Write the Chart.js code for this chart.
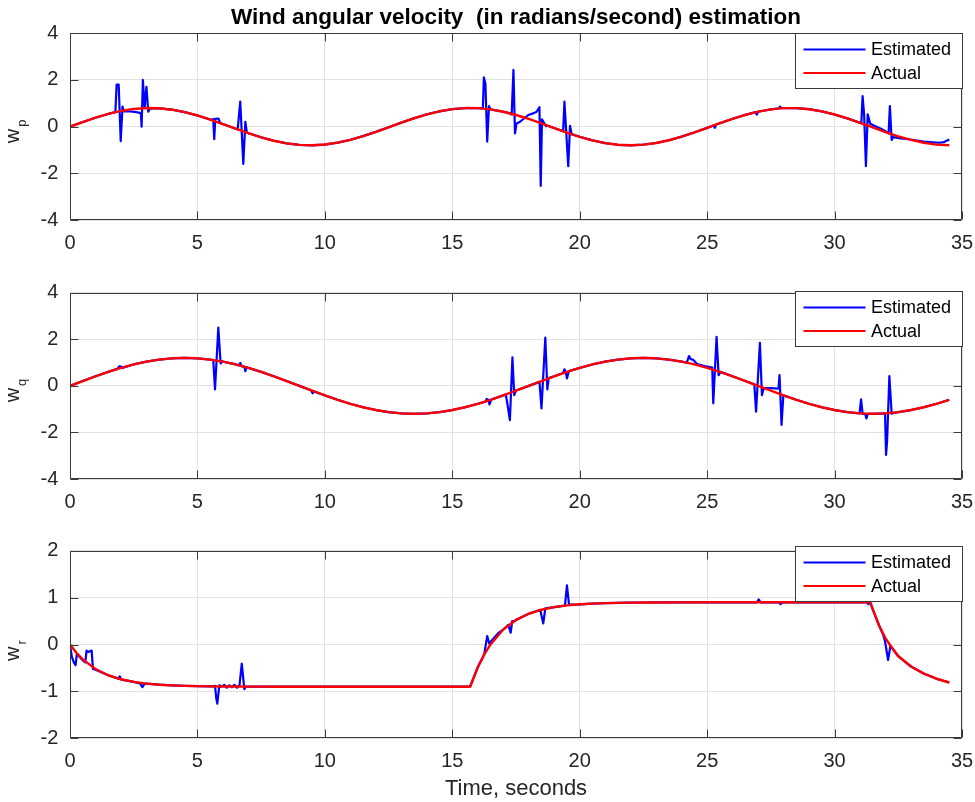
<!DOCTYPE html>
<html><head><meta charset="utf-8">
<script src="https://cdn.jsdelivr.net/npm/chart.js@4.4.0/dist/chart.umd.min.js"></script>
<style>
html,body{margin:0;padding:0;background:#fff;}
#wrap{position:relative;width:975px;height:802px;overflow:hidden;background:#fff;}
canvas{position:absolute;left:0;}
</style></head><body>
<div id="wrap">
<canvas id="c1" width="975" height="262" style="top:0px"></canvas>
<canvas id="c2" width="975" height="258" style="top:262px"></canvas>
<canvas id="c3" width="975" height="282" style="top:520px"></canvas>
</div>
<script>
// ---------------- data ----------------
const titleText = 'Wind angular velocity  (in radians/second) estimation';
const xLabel = 'Time, seconds';
const seriesNames = ['Estimated', 'Actual'];
const xTicks = [0, 5, 10, 15, 20, 25, 30, 35];
const yTicksPQ = [-4, -2, 0, 2, 4];
const yTicksR = [-2, -1, 0, 1, 2];

const timeS = [0,0.5,1,1.5,2,2.5,3,3.5,4,4.5,5,5.5,6,6.5,7,7.5,8,8.5,9,9.5,10,10.5,11,11.5,12,12.5,13,13.5,14,14.5,15,15.5,16,16.5,17,17.5,18,18.5,19,19.5,20,20.5,21,21.5,22,22.5,23,23.5,24,24.5,25,25.5,26,26.5,27,27.5,28,28.5,29,29.5,30,30.5,31,31.5,32,32.5,33,33.5,34,34.5];

const actualP = [0,0.198,0.384,0.545,0.673,0.759,0.798,0.787,0.727,0.622,0.479,0.305,0.113,-0.087,-0.281,-0.457,-0.605,-0.716,-0.782,-0.799,-0.767,-0.687,-0.564,-0.407,-0.224,-0.027,0.172,0.360,0.526,0.658,0.750,0.796,0.792,0.738,0.639,0.500,0.330,0.139,-0.060,-0.256,-0.435,-0.588,-0.704,-0.777,-0.800,-0.771,-0.700,-0.582,-0.429,-0.248,-0.053,0.147,0.336,0.505,0.643,0.741,0.792,0.794,0.748,0.652,0.520,0.353,0.165,-0.034,-0.230,-0.413,-0.569,-0.690,-0.769,-0.800];

const actualQ = [0,0.208,0.410,0.600,0.771,0.919,1.039,1.128,1.182,1.200,1.182,1.128,1.039,0.919,0.771,0.600,0.410,0.208,0,-0.208,-0.410,-0.600,-0.771,-0.919,-1.039,-1.128,-1.182,-1.200,-1.182,-1.128,-1.039,-0.919,-0.771,-0.600,-0.410,-0.208,0,0.208,0.410,0.600,0.771,0.919,1.039,1.128,1.182,1.200,1.182,1.128,1.039,0.919,0.771,0.600,0.410,0.208,0,-0.208,-0.410,-0.600,-0.771,-0.919,-1.039,-1.128,-1.182,-1.200,-1.182,-1.128,-1.039,-0.919,-0.771,-0.600];

const timeR = [0,0.25,0.5,1,1.5,2,2.5,3,3.5,4,4.5,5,5.5,6,6.5,7,7.5,8,9,10,11,12,13,14,15,15.7,16,16.25,16.5,17,17.5,18,18.5,19,19.5,20,20.5,21,21.5,22,22.5,23,24,25,26,27,28,29,30,31,31.4,31.5,31.75,32,32.25,32.5,33,33.5,34,34.5];
const actualR = [0,-0.175,-0.318,-0.523,-0.656,-0.742,-0.798,-0.834,-0.857,-0.872,-0.882,-0.888,-0.892,-0.895,-0.897,-0.898,-0.899,-0.9,-0.9,-0.9,-0.9,-0.9,-0.9,-0.9,-0.9,-0.9,-0.486,-0.216,0.002,0.319,0.524,0.656,0.742,0.798,0.834,0.857,0.872,0.882,0.888,0.892,0.895,0.897,0.899,0.9,0.9,0.9,0.9,0.9,0.9,0.9,0.9,0.750,0.40,0.13,-0.07,-0.25,-0.47,-0.62,-0.73,-0.81];

// estimated: stretches where the estimate departs from the actual curve, [time, value]
const estDevP = [
 [[1.78,0.62],[1.83,1.80],[1.91,1.80],[1.99,-0.62],[2.06,0.86],[2.12,0.65],[2.3,0.66],[2.6,0.62],[2.78,0.58],[2.81,0.0],[2.86,2.0],[2.93,0.8],[3.0,1.71],[3.07,0.64],[3.15,0.79]],
 [[5.55,0.29],[5.62,0.33],[5.66,-0.54],[5.70,0.33],[5.82,0.35],[5.9,0.15]],
 [[6.58,-0.12],[6.68,1.07],[6.80,-1.60],[6.88,0.21],[6.94,-0.26]],
 [[16.2,0.78],[16.24,2.11],[16.30,1.85],[16.37,-0.64],[16.44,0.88],[16.5,0.74]],
 [[17.28,0.57],[17.33,0.52],[17.40,2.43],[17.46,-0.29],[17.52,0.14],[17.66,0.21],[17.98,0.50],[18.2,0.58],[18.31,0.64],[18.42,0.83],[18.47,-2.54],[18.52,0.31],[18.58,0.2],[18.62,0.12],[18.68,0.02],[18.75,0.04]],
 [[19.35,-0.2],[19.40,1.07],[19.55,-1.69],[19.62,0.03],[19.68,-0.32]],
 [[25.25,0.05],[25.3,-0.05],[25.35,0.09]],
 [[26.9,0.62],[26.95,0.52],[27.0,0.64]],
 [[27.82,0.78],[27.86,0.86],[27.9,0.79]],
 [[31.05,0.15],[31.10,1.31],[31.16,0.5],[31.23,-1.69],[31.30,0.53],[31.4,0.12],[31.6,0.02],[31.8,-0.08],[32.0,-0.2],[32.12,-0.29],[32.17,0.88],[32.24,-0.57],[32.3,-0.45],[32.6,-0.5],[32.9,-0.54],[33.5,-0.64],[34.1,-0.69],[34.3,-0.66],[34.4,-0.6],[34.5,-0.55]]
];
const estDevQ = [
 [[1.88,0.74],[1.93,0.84],[2.0,0.83],[2.05,0.77]],
 [[5.62,1.11],[5.69,-0.15],[5.82,2.5],[5.91,0.96],[5.97,1.05]],
 [[6.62,0.88],[6.68,0.98],[6.74,0.84],[6.84,0.83],[6.88,0.63],[6.93,0.8]],
 [[9.45,-0.19],[9.52,-0.32],[9.58,-0.24]],
 [[16.3,-0.68],[16.35,-0.56],[16.42,-0.6],[16.46,-0.8],[16.52,-0.6]],
 [[17.1,-0.37],[17.17,-0.82],[17.26,-1.47],[17.36,1.22],[17.43,-0.4],[17.5,-0.2]],
 [[18.42,0.17],[18.5,-0.97],[18.65,2.07],[18.73,-0.15],[18.78,0.33]],
 [[19.35,0.55],[19.4,0.71],[19.45,0.6],[19.5,0.32],[19.57,0.62],[19.62,0.65]],
 [[24.2,1.0],[24.29,1.28],[24.35,1.15],[24.45,1.12],[24.55,1.0],[24.6,0.94]],
 [[24.9,0.85],[25.2,0.78],[25.24,-0.75],[25.37,2.1],[25.45,0.46],[25.52,0.6]],
 [[26.85,0.07],[26.92,-1.11],[27.07,1.85],[27.15,-0.4],[27.22,-0.1],[27.5,-0.1],[27.8,-0.12],[27.84,0.46],[27.92,-1.68],[27.99,-0.4],[28.05,-0.43]],
 [[30.98,-1.18],[31.04,-0.58],[31.1,-1.2],[31.2,-1.2],[31.25,-1.4],[31.3,-1.2]],
 [[31.98,-1.18],[32.02,-2.97],[32.06,-2.4],[32.15,0.42],[32.24,-1.2],[32.3,-1.17]]
];
const estDevR = [
 [[0,0],[0.07,-0.26],[0.15,-0.38],[0.22,-0.44],[0.27,-0.2],[0.4,-0.28],[0.55,-0.36],[0.6,-0.38],[0.65,-0.13],[0.72,-0.16],[0.85,-0.13],[0.9,-0.52],[1.0,-0.54]],
 [[1.9,-0.73],[1.95,-0.68],[2.02,-0.75]],
 [[2.75,-0.83],[2.84,-0.91],[2.92,-0.84]],
 [[5.6,-0.893],[5.69,-0.88],[5.74,-1.15],[5.78,-1.26],[5.86,-0.87],[5.95,-0.9],[6.05,-0.86],[6.15,-0.92],[6.25,-0.87],[6.35,-0.91],[6.45,-0.86],[6.55,-0.92],[6.65,-0.87],[6.74,-0.41],[6.84,-0.95],[6.9,-0.9]],
 [[16.25,-0.22],[16.37,0.18],[16.45,0.02],[16.6,0.12],[16.8,0.24]],
 [[17.2,0.42],[17.29,0.25],[17.35,0.5],[17.45,0.5]],
 [[18.45,0.74],[18.57,0.45],[18.65,0.77]],
 [[19.42,0.83],[19.5,1.26],[19.58,0.85]],
 [[26.95,0.9],[27.02,0.96],[27.1,0.9]],
 [[27.8,0.9],[27.88,0.86],[27.95,0.9]],
 [[31.25,0.9],[31.33,0.86],[31.4,0.9]],
 [[31.9,0.22],[31.98,0.07],[32.1,-0.33],[32.19,-0.03],[32.25,-0.07]]
];

// ---------------- helpers ----------------
const FONT = "'Liberation Sans', Arial, Helvetica, sans-serif";
const AXIS = '#262626';
const GRID = '#e2e2e2';

function toPoints(times, vals) { return times.map((t, i) => ({x: t, y: vals[i]})); }
function buildEstimated(times, vals, segs) {
  const pts = [];
  times.forEach((t, i) => {
    const inside = segs.some(s => t >= s[0][0] && t <= s[s.length - 1][0]);
    if (!inside) pts.push({x: t, y: vals[i]});
  });
  segs.forEach(s => s.forEach(p => pts.push({x: p[0], y: p[1]})));
  pts.sort((a, b) => a.x - b.x);
  return pts;
}

const framePlugin = {
  id: 'frame',
  afterDatasetsDraw(chart) {
    const {ctx, chartArea: a, scales} = chart;
    ctx.save();
    ctx.strokeStyle = '#3a3a3a';
    ctx.lineWidth = 1;
    const L = Math.round(a.left) + 0.5, R = Math.round(a.right) - 0.5;
    const T = Math.round(a.top) + 0.5, B = Math.round(a.bottom) - 0.5;
    ctx.beginPath();
    ctx.rect(L, T, R - L, B - T);
    const tl = 8;
    scales.x.ticks.forEach(tk => {
      const x = Math.round(scales.x.getPixelForValue(tk.value)) + 0.5;
      ctx.moveTo(x, B); ctx.lineTo(x, B - tl);
      ctx.moveTo(x, T); ctx.lineTo(x, T + tl);
    });
    scales.y.ticks.forEach(tk => {
      const y = Math.round(scales.y.getPixelForValue(tk.value)) + 0.5;
      ctx.moveTo(L, y); ctx.lineTo(L + tl, y);
      ctx.moveTo(R, y); ctx.lineTo(R - tl, y);
    });
    ctx.stroke();
    ctx.restore();
  }
};

const boxLegendPlugin = {
  id: 'boxLegend',
  afterDraw(chart, args, opts) {
    const {ctx, chartArea: a} = chart;
    const w = 167, h = 55;
    const x0 = Math.round(a.right - w) + 0.5;
    const y0 = Math.round(a.top + opts.offset) + 0.5;
    ctx.save();
    ctx.fillStyle = '#fff';
    ctx.fillRect(x0, y0, w, h);
    ctx.strokeStyle = '#3a3a3a';
    ctx.lineWidth = 1;
    ctx.strokeRect(x0, y0, w, h);
    ctx.font = '18px ' + FONT;
    ctx.textBaseline = 'middle';
    ctx.textAlign = 'left';
    chart.data.datasets.slice().sort((p, q) => seriesNames.indexOf(p.label) - seriesNames.indexOf(q.label)).forEach((ds, i) => {
      const y = y0 + 16 + i * 23.5;
      ctx.strokeStyle = ds.borderColor;
      ctx.lineWidth = 2.2;
      ctx.beginPath(); ctx.moveTo(x0 + 8, y); ctx.lineTo(x0 + 70, y); ctx.stroke();
      ctx.fillStyle = '#000';
      ctx.fillText(ds.label, x0 + 75.5, y + 1);
    });
    ctx.restore();
  }
};

const yLabelPlugin = {
  id: 'yLabel',
  afterDraw(chart, args, opts) {
    const {ctx, chartArea: a} = chart;
    const cy = (a.top + a.bottom) / 2 + opts.shift;
    ctx.save();
    ctx.fillStyle = AXIS;
    ctx.translate(opts.x, cy);
    ctx.rotate(-Math.PI / 2);
    ctx.textBaseline = 'alphabetic';
    ctx.textAlign = 'left';
    ctx.font = '20px ' + FONT;
    const ww = ctx.measureText(opts.main).width;
    ctx.fillText(opts.main, 0, 0);
    ctx.font = '13px ' + FONT;
    ctx.fillText(opts.sub, ww + 2, 7);
    ctx.restore();
  }
};

function makeChart(id, c) {
  const est = buildEstimated(c.times, c.actual, c.segs);
  const act = toPoints(c.times, c.actual);
  return new Chart(document.getElementById(id), {
    type: 'line',
    data: {
      datasets: [
        {label: seriesNames[1], data: act, borderColor: '#ff0000', borderWidth: 2.4, pointRadius: 0, tension: 0, order: 1, borderJoinStyle: 'round', fill: false},
        {label: seriesNames[0], data: est, borderColor: '#0000ff', borderWidth: 2.2, pointRadius: 0, tension: 0, order: 2, borderJoinStyle: 'round', fill: false}
      ]
    },
    options: {
      responsive: false, animation: false, devicePixelRatio: 1, events: [],
      layout: {padding: {left: 0, right: 13, top: c.padTop, bottom: 0}},
      plugins: {
        legend: {display: false},
        tooltip: {enabled: false},
        title: c.title ? {display: true, text: c.title, color: '#000', fullSize: false,
          font: {size: 22.5, weight: 'bold', family: FONT, lineHeight: 1.2}, padding: {top: 4.5, bottom: 1.8}} : {display: false},
        boxLegend: {offset: c.legendOffset},
        yLabel: {main: 'w', sub: c.sub, x: 19, shift: 16.5}
      },
      scales: {
        x: {
          type: 'linear', min: 0, max: 35,
          afterBuildTicks: s => { s.ticks = xTicks.map(v => ({value: v})); },
          afterFit: s => { s.height = c.xh; s.paddingLeft = 0; s.paddingRight = 0; },
          grid: {color: GRID, lineWidth: 1, drawTicks: false},
          border: {display: false},
          ticks: {padding: 11.5, color: AXIS, font: {size: 20, family: FONT}, maxRotation: 0, autoSkip: false},
          title: c.xTitle ? {display: true, text: c.xTitle, color: AXIS, font: {size: 22, family: FONT, lineHeight: 1.2}, padding: {top: 0, bottom: 0}} : {display: false}
        },
        y: {
          type: 'linear', min: c.yTicks[0], max: c.yTicks[c.yTicks.length - 1],
          afterBuildTicks: s => { s.ticks = c.yTicks.map(v => ({value: v})); },
          afterFit: s => { s.width = 70; s.paddingTop = 0; s.paddingBottom = 0; },
          grid: {color: GRID, lineWidth: 1, drawTicks: false},
          border: {display: false},
          ticks: {padding: 11.7, color: AXIS, font: {size: 20, family: FONT}, autoSkip: false}
        }
      }
    },
    plugins: [framePlugin, boxLegendPlugin, yLabelPlugin]
  });
}

makeChart('c1', {times: timeS, actual: actualP, segs: estDevP, yTicks: yTicksPQ, sub: 'p', padTop: 0, xh: 42, legendOffset: 0, title: titleText});
makeChart('c2', {times: timeS, actual: actualQ, segs: estDevQ, yTicks: yTicksPQ, sub: 'q', padTop: 30.7, xh: 41, legendOffset: -2});
makeChart('c3', {times: timeR, actual: actualR, segs: estDevR, yTicks: yTicksR, sub: 'r', padTop: 30.7, xh: 63.7, legendOffset: -4.7, xTitle: xLabel});
</script>
</body></html>
